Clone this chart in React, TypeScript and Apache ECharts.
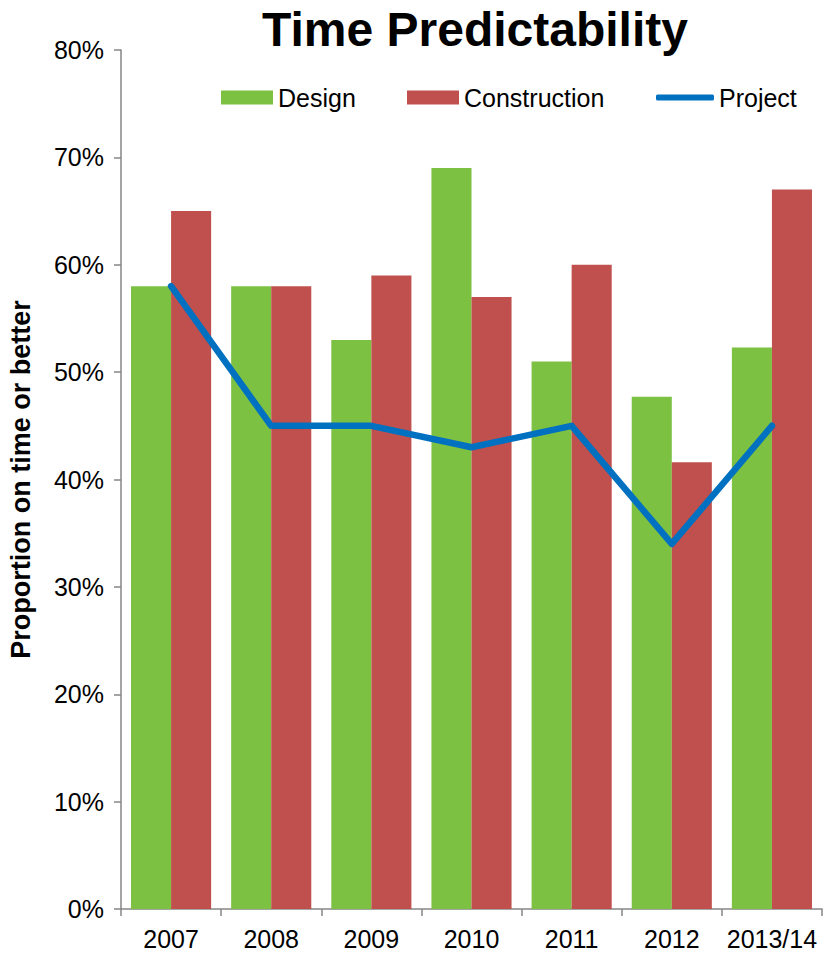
import React, { useEffect, useRef } from "react";
import * as echarts from "echarts";

const categories = ["2007", "2008", "2009", "2010", "2011", "2012", "2013/14"];
const designValues = [58, 58, 53, 69, 51, 47.7, 52.3];
const constructionValues = [65, 58, 59, 57, 60, 41.6, 67];
const projectValues = [58, 45, 45, 43, 45, 34, 45];

const FONT = "'Liberation Sans', Arial, sans-serif";

export default function App() {
  const ref = useRef<HTMLDivElement>(null);
  useEffect(() => {
    if (!ref.current) return;
    const chart = echarts.init(ref.current, undefined, { renderer: "svg" });
    const legendText = { fontSize: 25, color: "#000", fontFamily: FONT };
    chart.setOption({
      animation: false,
      backgroundColor: "#fff",
      textStyle: { fontFamily: FONT },
      title: {
        text: "Time Predictability",
        left: 470,
        top: 0,
        textAlign: "center",
        textStyle: { fontSize: 48, fontWeight: "bold", color: "#000", fontFamily: FONT },
      },
      legend: [
        {
          data: [{ name: "Design", icon: "rect" }],
          left: 216,
          top: 80,
          itemWidth: 52,
          itemHeight: 14,
          textStyle: legendText,
        },
        {
          data: [{ name: "Construction", icon: "rect" }],
          left: 402,
          top: 80,
          itemWidth: 52,
          itemHeight: 14,
          textStyle: legendText,
        },
        {
          data: [{ name: "Project", icon: "roundRect" }],
          left: 651,
          top: 80,
          itemWidth: 58,
          itemHeight: 6,
          textStyle: legendText,
        },
      ],
      grid: {
        left: 121,
        right: 1,
        top: 50,
        bottom: 46,
        containLabel: false,
        outerBoundsMode: "none",
      },
      xAxis: {
        type: "category",
        data: categories,
        boundaryGap: true,
        axisLine: { lineStyle: { color: "#868686", width: 1.5 } },
        axisTick: { show: true, length: 7, alignWithLabel: false, lineStyle: { color: "#868686", width: 1.5 } },
        axisLabel: { fontSize: 25, color: "#000", margin: 17, fontFamily: FONT, interval: 0 },
      },
      yAxis: {
        type: "value",
        min: 0,
        max: 80,
        interval: 10,
        name: "Proportion on time or better",
        nameLocation: "middle",
        nameGap: 87,
        nameRotate: 90,
        nameTextStyle: { fontSize: 27, fontWeight: "bold", color: "#000", fontFamily: FONT },
        axisLine: { show: true, lineStyle: { color: "#868686", width: 1.5 } },
        axisTick: { show: true, length: 7, lineStyle: { color: "#868686", width: 1.5 } },
        axisLabel: { formatter: "{value}%", fontSize: 25, color: "#000", margin: 17, fontFamily: FONT },
        splitLine: { show: false },
      },
      series: [
        {
          name: "Design",
          type: "bar",
          data: designValues,
          itemStyle: { color: "#7CC142" },
          barGap: "0%",
          barCategoryGap: "20%",
        },
        {
          name: "Construction",
          type: "bar",
          data: constructionValues,
          itemStyle: { color: "#C0504D" },
          barGap: "0%",
          barCategoryGap: "20%",
        },
        {
          name: "Project",
          type: "line",
          data: projectValues,
          showSymbol: false,
          symbol: "none",
          lineStyle: { color: "#0070C0", width: 6.5, cap: "round", join: "round" },
          itemStyle: { color: "#0070C0" },
          z: 5,
        },
      ],
    });
    return () => chart.dispose();
  }, []);
  return (
    <div
      ref={ref}
      style={{ position: "fixed", left: 0, top: 0, width: 823, height: 955 }}
    />
  );
}
